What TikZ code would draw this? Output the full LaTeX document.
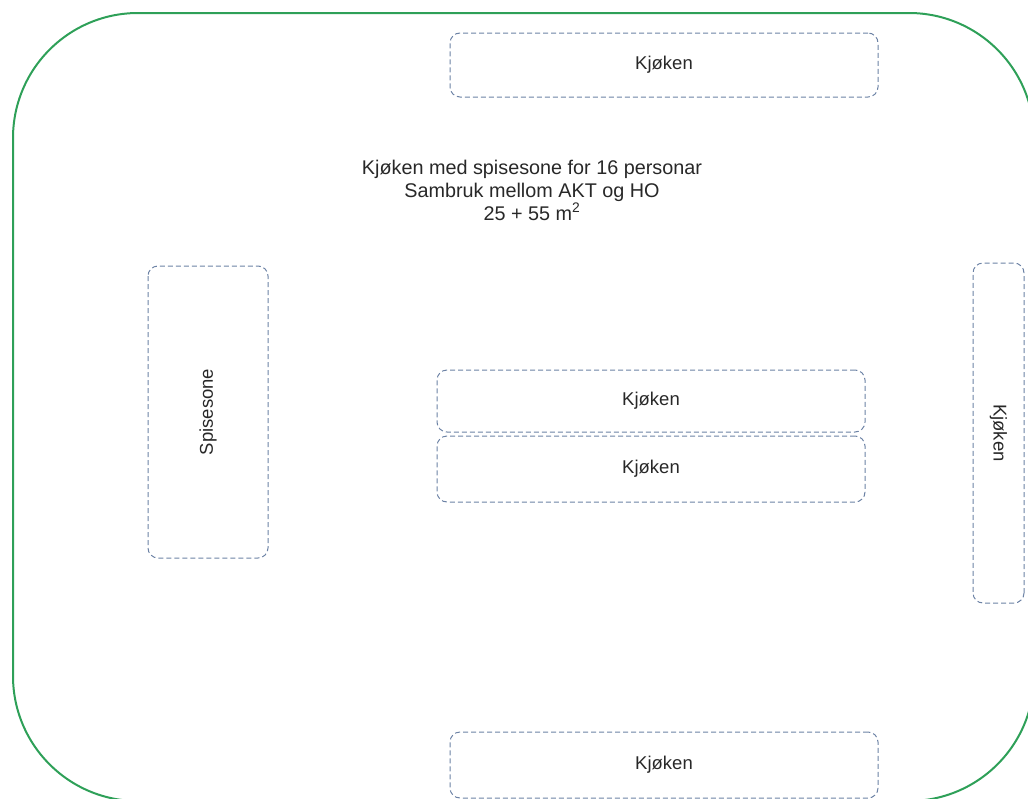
\documentclass[tikz,border=0pt]{standalone}
\usepackage{fontspec}
\setmainfont{Liberation Sans}
\usepackage{xcolor}
\usetikzlibrary{positioning}

\definecolor{roomgreen}{RGB}{46,160,88}
\definecolor{zoneblue}{RGB}{108,130,165}
\definecolor{labelgray}{RGB}{40,40,40}

\begin{document}
\begin{tikzpicture}[
  x=1pt, y=-1pt,
  every node/.style={font=\fontsize{18.5}{23}\selectfont, text=labelgray},
  room/.style={draw=roomgreen, line width=2pt, rounded corners=125pt},
  zone/.style={draw=zoneblue, line width=1pt, dash pattern=on 5pt off 3pt,
    rounded corners=10pt, inner sep=0pt},
  kitchen/.style={zone, minimum width=428pt, minimum height=64pt}
]
  \useasboundingbox (0,0) rectangle (1028,798);
  \clip (0,0) rectangle (1028,798);

  % room outline
  \draw[room] (13,13) rectangle (1034,801);

  \node[align=center, font=\fontsize{19.8}{23}\selectfont] (title) at (532,190)
    {Kjøken med spisesone for 16 personar\\Sambruk mellom AKT og HO\\25 + 55 m\textsuperscript{2}};

  \node[kitchen] (ktop) at (664,65) {Kjøken};
  \node[kitchen, minimum height=62pt] (kmid1) at (651,401) {Kjøken};
  \node[kitchen, minimum height=66pt] (kmid2) at (651,469) {Kjøken};
  \node[kitchen, minimum height=66pt] (kbot) at (664,765) {Kjøken};
  \node[zone, rotate=90, minimum width=292pt, minimum height=120pt] (dining) at (208,412) {Spisesone};
  \node[zone, rotate=-90, minimum width=340pt, minimum height=51pt] (kright) at (998.5,433) {Kjøken};
\end{tikzpicture}
\end{document}
